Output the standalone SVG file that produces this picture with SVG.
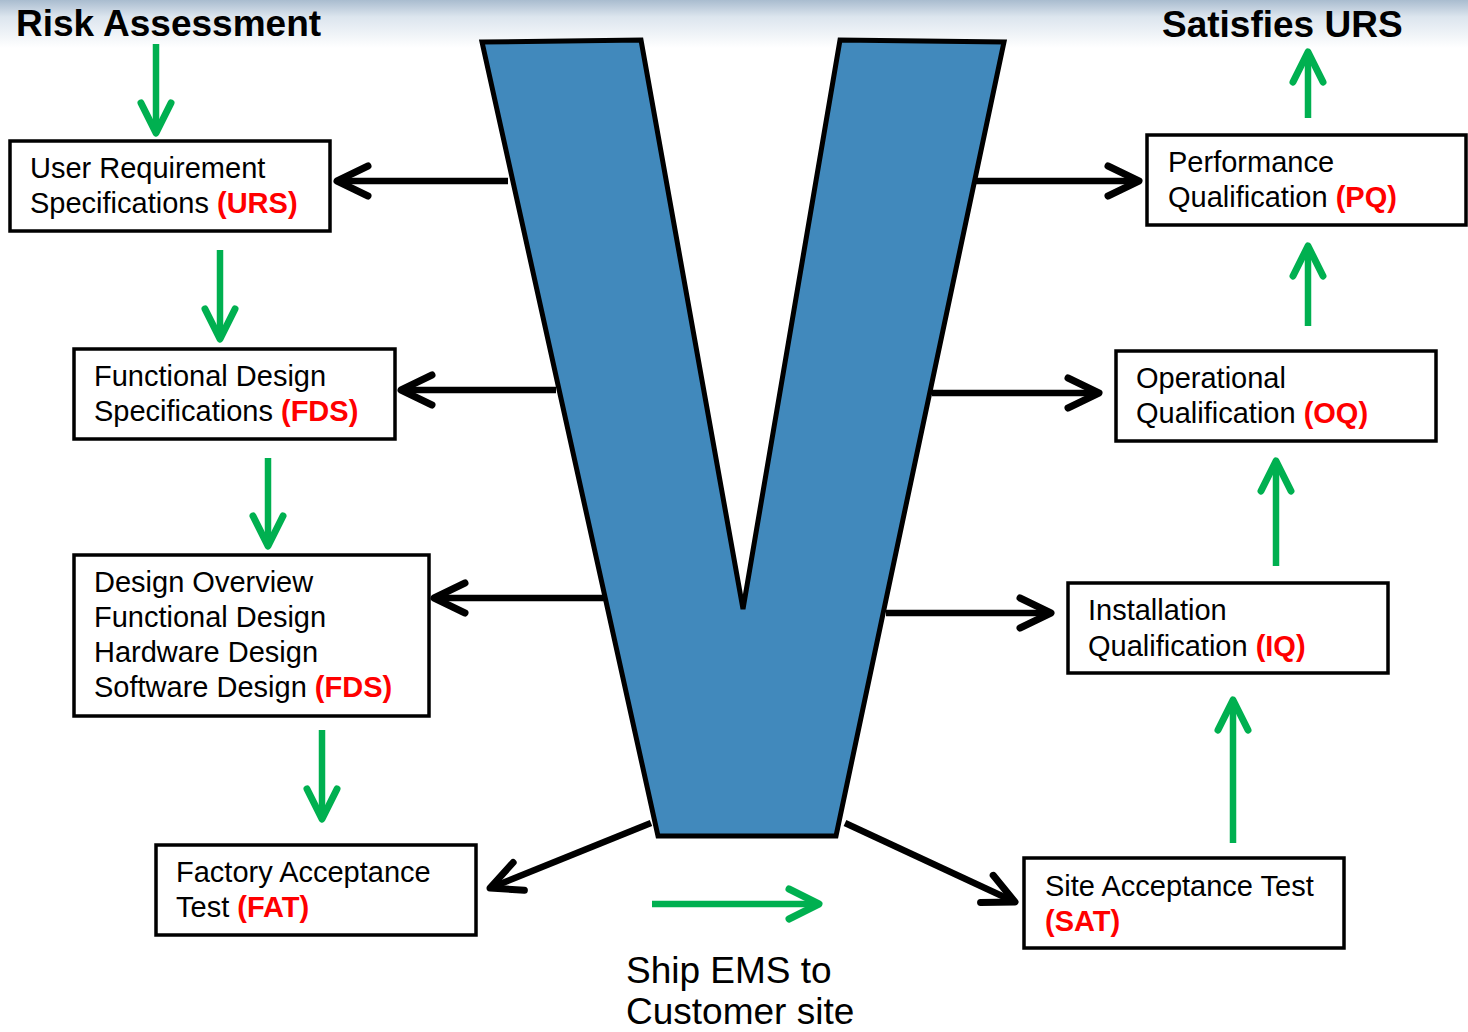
<svg xmlns="http://www.w3.org/2000/svg" width="1468" height="1032" viewBox="0 0 1468 1032">
<defs>
<linearGradient id="topg" x1="0" y1="0" x2="0" y2="1">
<stop offset="0" stop-color="#a9bccf"/>
<stop offset="0.35" stop-color="#dce5ee"/>
<stop offset="1" stop-color="#ffffff"/>
</linearGradient>
<marker id="ab" markerUnits="userSpaceOnUse" viewBox="-40 -22 46 44" refX="0" refY="0" markerWidth="46" markerHeight="44" orient="auto">
<path d="M-31,-15 L0,0 L-31,15" fill="none" stroke="#000" stroke-width="7" stroke-linecap="round" stroke-linejoin="round"/>
</marker>
<marker id="ag" markerUnits="userSpaceOnUse" viewBox="-40 -22 46 44" refX="0" refY="0" markerWidth="46" markerHeight="44" orient="auto">
<path d="M-30,-15 L0,0 L-30,15" fill="none" stroke="#00b050" stroke-width="7" stroke-linecap="round" stroke-linejoin="round"/>
</marker>
</defs>
<style>
.box{fill:#fff;stroke:#000;stroke-width:3.5}
.t{font-family:"Liberation Sans",Arial,sans-serif;font-size:29px;fill:#000}
.r{font-weight:bold;fill:#ff0000}
.h{font-family:"Liberation Sans",Arial,sans-serif;font-size:37px;font-weight:bold;fill:#000}
.s{font-family:"Liberation Sans",Arial,sans-serif;font-size:37px;fill:#000}
.bk{stroke:#000;stroke-width:6.5;fill:none;marker-end:url(#ab)}
.gr{stroke:#00b050;stroke-width:6.5;fill:none;marker-end:url(#ag)}
</style>
<rect x="0" y="0" width="1468" height="1032" fill="#fff"/>
<rect x="0" y="0" width="1468" height="48" fill="url(#topg)"/>

<g id="V">
<path d="M482,42 L641,40 L743,609 L840,40 L1004,42 L836,836 L658,836 Z" fill="#4189bc" stroke="#000" stroke-width="5" stroke-linejoin="miter"/>
</g>

<g id="connectors">
<line class="bk" x1="508" y1="181" x2="337" y2="181"/>
<line class="bk" x1="556" y1="390" x2="401" y2="390"/>
<line class="bk" x1="605" y1="598" x2="434" y2="598"/>
<line class="bk" x1="651" y1="823" x2="490" y2="888"/>
<line class="bk" x1="975" y1="181" x2="1139" y2="181"/>
<line class="bk" x1="932" y1="393" x2="1099" y2="393"/>
<line class="bk" x1="886" y1="613" x2="1051" y2="613"/>
<line class="bk" x1="845" y1="823" x2="1015" y2="902"/>
<line class="gr" x1="156" y1="44" x2="156" y2="133"/>
<line class="gr" x1="220" y1="250" x2="220" y2="339"/>
<line class="gr" x1="268" y1="458" x2="268" y2="546"/>
<line class="gr" x1="322" y1="730" x2="322" y2="819"/>
<line class="gr" x1="1308" y1="118" x2="1308" y2="52"/>
<line class="gr" x1="1308" y1="326" x2="1308" y2="246"/>
<line class="gr" x1="1276" y1="566" x2="1276" y2="461"/>
<line class="gr" x1="1233" y1="843" x2="1233" y2="700"/>
<line class="gr" x1="652" y1="904" x2="819" y2="904"/>
</g>

<g id="title-risk"><text class="h" x="16" y="36">Risk Assessment</text></g>
<g id="title-urs"><text class="h" x="1162" y="37">Satisfies URS</text></g>

<g id="urs">
<rect class="box" x="10" y="141" width="320" height="90"/>
<text class="t" x="30" y="178">User Requirement</text>
<text class="t" x="30" y="213">Specifications <tspan class="r">(URS)</tspan></text>
</g>
<g id="fds">
<rect class="box" x="74" y="349" width="321" height="90"/>
<text class="t" x="94" y="386">Functional Design</text>
<text class="t" x="94" y="421">Specifications <tspan class="r">(FDS)</tspan></text>
</g>
<g id="design">
<rect class="box" x="74" y="555" width="355" height="161"/>
<text class="t" x="94" y="592">Design Overview</text>
<text class="t" x="94" y="627">Functional Design</text>
<text class="t" x="94" y="662">Hardware Design</text>
<text class="t" x="94" y="697">Software Design <tspan class="r">(FDS)</tspan></text>
</g>
<g id="fat">
<rect class="box" x="156" y="845" width="320" height="90"/>
<text class="t" x="176" y="882">Factory Acceptance</text>
<text class="t" x="176" y="917">Test <tspan class="r">(FAT)</tspan></text>
</g>
<g id="pq">
<rect class="box" x="1147" y="135" width="319" height="90"/>
<text class="t" x="1168" y="172">Performance</text>
<text class="t" x="1168" y="207">Qualification <tspan class="r">(PQ)</tspan></text>
</g>
<g id="oq">
<rect class="box" x="1116" y="351" width="320" height="90"/>
<text class="t" x="1136" y="388">Operational</text>
<text class="t" x="1136" y="423">Qualification <tspan class="r">(OQ)</tspan></text>
</g>
<g id="iq">
<rect class="box" x="1068" y="583" width="320" height="90"/>
<text class="t" x="1088" y="620">Installation</text>
<text class="t" x="1088" y="656">Qualification <tspan class="r">(IQ)</tspan></text>
</g>
<g id="sat">
<rect class="box" x="1024" y="858" width="320" height="90"/>
<text class="t" x="1045" y="896">Site Acceptance Test</text>
<text class="t" x="1045" y="931"><tspan class="r">(SAT)</tspan></text>
</g>
<g id="ship">
<text class="s" x="626" y="983">Ship EMS to</text>
<text class="s" x="626" y="1024">Customer site</text>
</g>
</svg>
